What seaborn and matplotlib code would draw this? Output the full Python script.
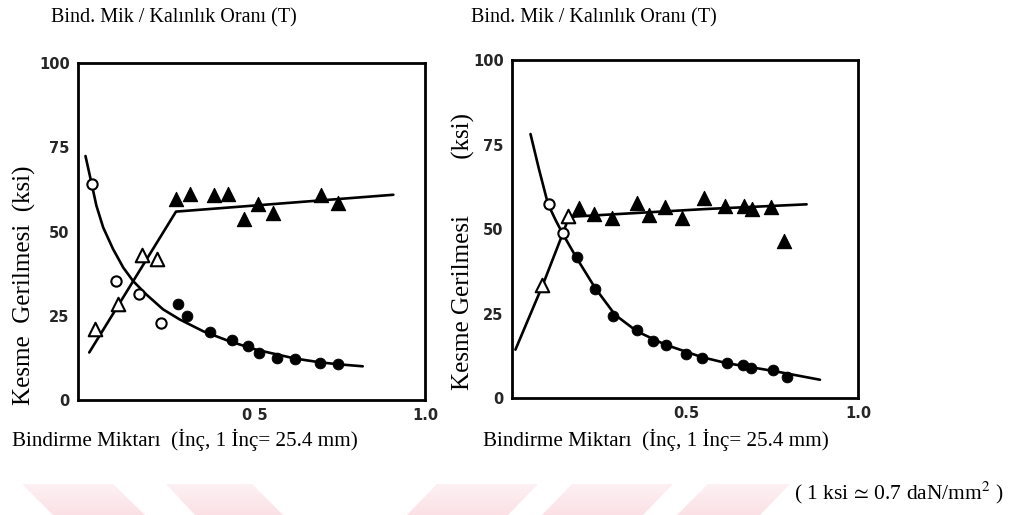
import numpy as np
import pandas as pd
import matplotlib
matplotlib.use("Agg")
import matplotlib.pyplot as plt
from matplotlib.patches import Polygon
from matplotlib.colors import LinearSegmentedColormap
import seaborn as sns

# ---- left panel: measured points ----
left_open_circ_x = [0.02, 0.093, 0.16, 0.224]
left_open_circ_y = [64.0, 35.3, 31.6, 22.9]
left_open_tri_x = [0.03, 0.098, 0.167, 0.213]
left_open_tri_y = [21.0, 28.6, 43.0, 41.8]
left_fill_circ_x = [0.273, 0.30, 0.368, 0.433, 0.48, 0.513, 0.564, 0.618, 0.69, 0.745]
left_fill_circ_y = [28.6, 24.9, 20.2, 17.7, 15.9, 13.9, 12.4, 12.1, 11.1, 10.6]
left_fill_tri_x = [0.267, 0.309, 0.38, 0.42, 0.469, 0.508, 0.552, 0.694, 0.745]
left_fill_tri_y = [59.7, 61.2, 60.7, 61.2, 53.7, 58.2, 55.5, 60.7, 58.4]

# left panel: drawn curves
left_fall_x = [0.002, 0.02, 0.034, 0.054, 0.083, 0.113, 0.142, 0.181, 0.23, 0.279,
               0.348, 0.426, 0.505, 0.618, 0.69, 0.745, 0.817]
left_fall_y = [72.4, 64.2, 57.7, 51.2, 44.8, 39.3, 35.3, 31.3, 26.9, 23.9,
               20.4, 17.4, 14.9, 12.3, 11.2, 10.6, 10.0]
left_rise_x = [0.013, 0.268, 0.907]
left_rise_y = [14.1, 55.9, 60.9]

# ---- right panel: measured points ----
right_open_circ_x = [0.097, 0.139]
right_open_circ_y = [57.4, 48.8]
right_open_tri_x = [0.078, 0.153]
right_open_tri_y = [33.5, 53.7]
right_fill_circ_x = [0.18, 0.233, 0.286, 0.355, 0.401, 0.44, 0.498, 0.546, 0.617, 0.663, 0.688, 0.753, 0.792]
right_fill_circ_y = [41.7, 32.2, 24.3, 20.0, 16.9, 15.8, 13.0, 11.8, 10.3, 9.8, 8.9, 8.4, 6.1]
right_fill_tri_x = [0.187, 0.23, 0.282, 0.355, 0.391, 0.437, 0.486, 0.551, 0.612, 0.667, 0.69, 0.746, 0.784]
right_fill_tri_y = [56.2, 54.5, 53.4, 57.8, 54.2, 56.6, 53.2, 59.1, 56.9, 56.9, 56.0, 56.5, 46.5]

right_fall_x = [0.044, 0.068, 0.095, 0.117, 0.138, 0.177, 0.233, 0.291, 0.355, 0.437,
                0.544, 0.617, 0.753, 0.889]
right_fall_y = [78.1, 68.0, 57.4, 52.7, 48.6, 41.7, 32.5, 24.6, 19.7, 15.8,
                12.1, 10.3, 8.0, 5.4]
right_rise_x = [0.0, 0.08, 0.138, 0.155, 0.175, 0.554, 0.85]
right_rise_y = [14.3, 33.5, 48.6, 53.2, 53.7, 55.9, 57.3]

y_ticks = [0, 25, 50, 75, 100]
x_ticks = [0.25, 0.5, 0.75, 1.0]
x_tick_labels = ["", "0 5", "", "1.0"]
x_tick_labels_right = ["", "0.5", "", "1.0"]

title_text = "Bind. Mik / Kalınlık Oranı (T)"
xlabel_text = "Bindirme Miktarı  (İnç, 1 İnç= 25.4 mm)"
ylabel_left = "Kesme  Gerilmesi  (ksi)"
ylabel_right = "Kesme Gerilmesi         (ksi)"
note_text = "( 1 ksi$\\,\\simeq\\,$0.7 daN/mm$^2$ )"

sns.set_theme(style="white")
plt.rcParams["mathtext.fontset"] = "stix"
serif = ["Liberation Serif", "DejaVu Serif"]
W, H = 1026, 515
fig = plt.figure(figsize=(W / 100, H / 100), dpi=100)

# faint watermark stripes along the bottom edge (pixel coords)
bg = fig.add_axes([0, 0, 1, 1], zorder=-1)
bg.axis("off")
pink = LinearSegmentedColormap.from_list("pink", ["#fdf1f3", "#fbe1e6"])
grad = np.linspace(0, 1, 64).reshape(-1, 1)
stripes = [
    [(22, 484), (113, 484), (145, 515), (53, 515)],
    [(166, 484), (252, 484), (283, 515), (195, 515)],
    [(437, 484), (538, 484), (508, 515), (407, 515)],
    [(572, 484), (673, 484), (643, 515), (542, 515)],
    [(708, 484), (790, 484), (760, 515), (677, 515)],
]
for pts in stripes:
    poly = Polygon(pts, closed=True, facecolor="none", edgecolor="none")
    bg.add_patch(poly)
    xs = [p[0] for p in pts]
    im = bg.imshow(grad, cmap=pink, aspect="auto", interpolation="bilinear",
                   extent=[min(xs), max(xs), 515, 484])
    im.set_clip_path(poly)
bg.set_xlim(0, W)
bg.set_ylim(H, 0)


def panel(rect, xlo, d, tlabels):
    ax = fig.add_axes(rect)
    ax.set_facecolor("none")
    kw = dict(ax=ax, color="black", linewidth=1.9, sort=False, estimator=None, legend=False)
    sns.lineplot(x=d["fall_x"], y=d["fall_y"], **kw)
    sns.lineplot(x=d["rise_x"], y=d["rise_y"], **kw)
    sns.scatterplot(x=d["oc_x"], y=d["oc_y"], ax=ax, marker="o", s=55,
                    facecolor="white", edgecolor="black", linewidth=1.5, zorder=3)
    sns.scatterplot(x=d["ot_x"], y=d["ot_y"], ax=ax, marker="^", s=95,
                    facecolor="white", edgecolor="black", linewidth=1.5, zorder=3)
    sns.scatterplot(x=d["fc_x"], y=d["fc_y"], ax=ax, marker="o", s=60,
                    color="black", edgecolor="black", zorder=3)
    sns.scatterplot(x=d["ft_x"], y=d["ft_y"], ax=ax, marker="^", s=105,
                    color="black", edgecolor="black", zorder=3)
    ax.set_xlim(xlo, 1.0)
    ax.set_ylim(0, 100)
    ax.set_xticks(x_ticks)
    ax.set_xticklabels(tlabels)
    ax.set_yticks(y_ticks)
    ax.set_yticklabels([str(v) for v in y_ticks])
    ax.tick_params(direction="in", length=9, width=1.8, color="black",
                   labelsize=10.5, pad=6)
    for lab in ax.get_xticklabels() + ax.get_yticklabels():
        lab.set_fontfamily("DejaVu Sans")
        lab.set_fontweight("bold")
    for sp in ax.spines.values():
        sp.set_visible(True)
        sp.set_color("black")
        sp.set_linewidth(2.0)
    ax.set_xlabel("")
    ax.set_ylabel("")
    return ax


left = dict(fall_x=left_fall_x, fall_y=left_fall_y, rise_x=left_rise_x, rise_y=left_rise_y,
            oc_x=left_open_circ_x, oc_y=left_open_circ_y, ot_x=left_open_tri_x, ot_y=left_open_tri_y,
            fc_x=left_fill_circ_x, fc_y=left_fill_circ_y, ft_x=left_fill_tri_x, ft_y=left_fill_tri_y)
right = dict(fall_x=right_fall_x, fall_y=right_fall_y, rise_x=right_rise_x, rise_y=right_rise_y,
             oc_x=right_open_circ_x, oc_y=right_open_circ_y, ot_x=right_open_tri_x, ot_y=right_open_tri_y,
             fc_x=right_fill_circ_x, fc_y=right_fill_circ_y, ft_x=right_fill_tri_x, ft_y=right_fill_tri_y)

panel([78 / W, 1 - 400 / H, 347 / W, 337 / H], -0.02, left, x_tick_labels)
panel([512 / W, 1 - 398 / H, 346 / W, 338 / H], -0.01, right, x_tick_labels_right)


def ftext(x, y, s, size, **kw):
    fig.text(x / W, 1 - y / H, s, fontsize=size, family=serif, color="black",
             ha="center", va="center", **kw)


ftext(174, 18, title_text, 14.5)
ftext(594, 18, title_text, 14.5)
ftext(24, 285, ylabel_left, 18, rotation=90)
ftext(463, 252, ylabel_right, 18, rotation=90)
ftext(185, 440, xlabel_text, 15.2)
ftext(656, 440, xlabel_text, 15.2)
ftext(899, 493, note_text, 15.5)

fig.savefig("out.png", dpi=100)
